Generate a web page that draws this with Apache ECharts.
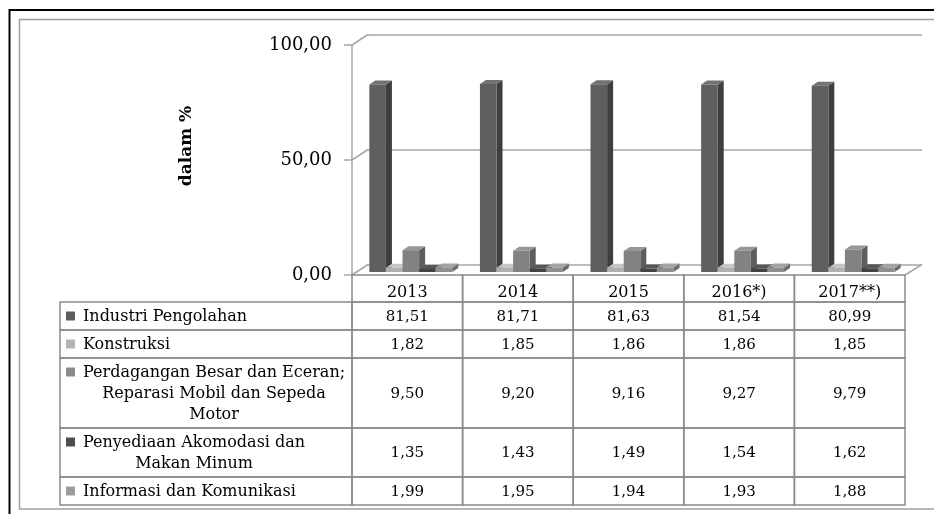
<!DOCTYPE html>
<html><head><meta charset="utf-8">
<script src="https://cdn.jsdelivr.net/npm/echarts@6/dist/echarts.min.js"></script>
<style>html,body{margin:0;padding:0;background:#fff}#c{width:934px;height:514px}</style>
</head><body><div id="c"></div>
<script>
// ---- data ----
const years = ['2013', '2014', '2015', '2016*)', '2017**)'];
const seriesNames = [
  'Industri Pengolahan',
  'Konstruksi',
  'Perdagangan Besar dan Eceran;\nReparasi Mobil dan Sepeda\nMotor',
  'Penyediaan Akomodasi dan\nMakan Minum',
  'Informasi dan Komunikasi'
];
const industri    = [81.51, 81.71, 81.63, 81.54, 80.99];
const konstruksi  = [1.82, 1.85, 1.86, 1.86, 1.85];
const perdagangan = [9.50, 9.20, 9.16, 9.27, 9.79];
const penyediaan  = [1.35, 1.43, 1.49, 1.54, 1.62];
const informasi   = [1.99, 1.95, 1.94, 1.93, 1.88];
const yTicks = [0, 50, 100];
const axisTitle = 'dalam %';

// ---- styles / layout ----
const allValues = [industri, konstruksi, perdagangan, penyediaan, informasi];
const barColors = [
  {front:'#5f5f5f', side:'#3e3e3e', top:'#727272', key:'#5c5c5c'},
  {front:'#b0b0b0', side:'#8e8e8e', top:'#c6c6c6', key:'#b5b5b5'},
  {front:'#828282', side:'#5e5e5e', top:'#969696', key:'#8c8c8c'},
  {front:'#424242', side:'#2a2a2a', top:'#575757', key:'#4c4c4c'},
  {front:'#8e8e8e', side:'#6c6c6c', top:'#a3a3a3', key:'#9c9c9c'}
];
const FONT = 'DejaVu Serif';
const LABEL_FS = 16;
const YEAR_FS = 16;
const VALUE_FS = 15;
const LINE_H = 21;
const HEADER_H = 27;
const LABEL_W = 292;
const WALL_DX = 16, WALL_DY = -10.5;
const BAR_DX = 6, BAR_DY = -4, BAR_LIFT = -3, BAR_SHIFT = 3.5, BAR_FRAC = 0.15;
const GRID_LINE = '#a6a6a6';
const TABLE_LINE = '#8a8a8a';
const FRONT = {left: 352, right: 29, top: 45, bottom: 239};

const fmt = v => v.toFixed(2).replace('.', ',');

const rowLines = seriesNames.map(n => n.split('\n').length);
const rowH = rowLines.map(l => 7 + LINE_H * l);
const rowTop = [];
let acc = HEADER_H;
rowH.forEach(h => { rowTop.push(acc); acc += h; });
const tableTotal = acc;

const mctx = document.createElement('canvas').getContext('2d');
mctx.font = LABEL_FS + 'px "' + FONT + '"';
const labelW = seriesNames.map(n => Math.max.apply(null, n.split('\n').map(s => mctx.measureText(s).width)));

// ---- render functions ----
function renderWalls(params, api) {
  const cs = params.coordSys;
  const v = api.value(1);
  const y = api.coord([0, v])[1];
  const children = [{
    type: 'line',
    shape: {x1: cs.x, y1: y, x2: cs.x + WALL_DX, y2: y + WALL_DY},
    style: {stroke: GRID_LINE, lineWidth: 1.5}
  }];
  if (v === 0) {
    children.push({
      type: 'line',
      shape: {x1: cs.x + cs.width, y1: y, x2: cs.x + cs.width + WALL_DX + 1, y2: y + WALL_DY},
      style: {stroke: GRID_LINE, lineWidth: 1.5}
    });
  }
  return {type: 'group', children};
}

function makeBarRender(sIdx) {
  const col = barColors[sIdx];
  return function (params, api) {
    const c = api.value(0), v = api.value(1);
    const bw = api.size([1, 0])[0];
    const w = bw * BAR_FRAC;
    const cx = api.coord([c, 0])[0];
    const x = cx - 2.5 * w + BAR_SHIFT + sIdx * w;
    const yb = api.coord([c, 0])[1] + BAR_LIFT;
    const yt = api.coord([c, v])[1] + BAR_LIFT;
    return {type: 'group', children: [
      {type: 'polygon', shape: {points: [[x + w, yb], [x + w + BAR_DX, yb + BAR_DY], [x + w + BAR_DX, yt + BAR_DY], [x + w, yt]]},
        style: {fill: col.side}},
      {type: 'polygon', shape: {points: [[x, yt], [x + BAR_DX, yt + BAR_DY], [x + w + BAR_DX, yt + BAR_DY], [x + w, yt]]},
        style: {fill: col.top}},
      {type: 'rect', shape: {x: x, y: yt, width: w, height: yb - yt}, style: {fill: col.front}}
    ]};
  };
}

function renderTable(params, api) {
  const cs = params.coordSys;
  const c = api.value(2), r = api.value(3);
  const top = r < 0 ? 0 : rowTop[r];
  const bot = r < 0 ? HEADER_H : rowTop[r] + rowH[r];
  const y0 = api.coord([0, top])[1], y1 = api.coord([0, bot])[1];
  let x0, x1;
  if (c < 0) { x0 = cs.x - LABEL_W; x1 = cs.x; }
  else {
    const bw = api.size([1, 0])[0];
    const cx = api.coord([c, 0])[0];
    x0 = cx - bw / 2; x1 = cx + bw / 2;
  }
  const children = [{
    type: 'rect', shape: {x: x0, y: y0, width: x1 - x0, height: y1 - y0},
    style: {fill: 'none', stroke: TABLE_LINE, lineWidth: 1.5}
  }];
  const cy = (y0 + y1) / 2;
  if (c < 0) {
    const lines = rowLines[r];
    const firstC = cy - (lines - 1) * LINE_H / 2;
    children.push({type: 'rect', shape: {x: x0 + 6, y: firstC - 4.5, width: 9, height: 9}, style: {fill: barColors[r].key}});
    children.push({type: 'text', style: {
      text: seriesNames[r], x: x0 + 23 + labelW[r] / 2, y: cy + 1,
      align: 'center', verticalAlign: 'middle', lineHeight: LINE_H,
      fontFamily: FONT, fontSize: LABEL_FS, fill: '#000'
    }});
  } else {
    const txt = r < 0 ? years[c] : fmt(allValues[r][c]);
    children.push({type: 'text', style: {
      text: txt, x: (x0 + x1) / 2, y: r < 0 ? cy + 4 : cy + 1,
      align: 'center', verticalAlign: 'middle',
      fontFamily: FONT, fontSize: r < 0 ? YEAR_FS : VALUE_FS, fill: '#000'
    }});
  }
  return {type: 'group', children};
}

const tableData = [];
years.forEach((y, c) => tableData.push([c, 0, c, -1]));
seriesNames.forEach((n, r) => {
  tableData.push([0, rowTop[r], -1, r]);
  years.forEach((y, c) => tableData.push([c, rowTop[r], c, r]));
});

const chart = echarts.init(document.getElementById('c'), null, {renderer: 'canvas'});
const option = {
  animation: false,
  backgroundColor: '#fff',
  textStyle: {fontFamily: FONT},
  graphic: [
    {type: 'rect', z: -10, shape: {x: 9.5, y: 10, width: 1000, height: 1000}, style: {fill: 'none', stroke: '#000', lineWidth: 2}},
    {type: 'rect', z: -10, shape: {x: 19.5, y: 19.5, width: 1000, height: 489.5}, style: {fill: 'none', stroke: '#a0a0a0', lineWidth: 1.5}}
  ],
  grid: [
    {left: FRONT.left, right: FRONT.right, top: FRONT.top, bottom: FRONT.bottom, containLabel: false, outerBoundsMode: 'none'},
    {left: FRONT.left + WALL_DX, right: FRONT.right - WALL_DX - 1, top: FRONT.top + WALL_DY, bottom: FRONT.bottom - WALL_DY, containLabel: false, outerBoundsMode: 'none'},
    {left: FRONT.left, right: FRONT.right, top: 514 - FRONT.bottom, bottom: 514 - (514 - FRONT.bottom) - tableTotal, containLabel: false, outerBoundsMode: 'none'}
  ],
  xAxis: [
    {type: 'category', gridIndex: 0, data: years, show: false},
    {type: 'category', gridIndex: 1, data: years, show: false},
    {type: 'category', gridIndex: 2, data: years, show: false}
  ],
  yAxis: [
    {type: 'value', gridIndex: 0, min: 0, max: 100, interval: 50,
      name: axisTitle, nameLocation: 'middle', nameRotate: 90, nameGap: 157,
      nameTextStyle: {fontFamily: FONT, fontWeight: 'bold', fontSize: 17, color: '#000', padding: [0, 0, 0, 28]},
      axisLine: {show: true, lineStyle: {color: GRID_LINE, width: 1.5}},
      axisTick: {show: true, length: 8, lineStyle: {color: GRID_LINE, width: 1.5}},
      axisLabel: {formatter: v => fmt(v), fontFamily: FONT, fontSize: 18, color: '#000', margin: 20},
      splitLine: {show: false}},
    {type: 'value', gridIndex: 1, min: 0, max: 100, interval: 50,
      axisLine: {show: false}, axisTick: {show: false}, axisLabel: {show: false},
      splitLine: {show: true, lineStyle: {color: GRID_LINE, width: 1.5}}},
    {type: 'value', gridIndex: 2, min: 0, max: tableTotal, inverse: true, show: false, splitLine: {show: false}}
  ],
  series: [
    {type: 'custom', xAxisIndex: 0, yAxisIndex: 0, clip: false, silent: true, z: 1,
      data: yTicks.map(v => [0, v]), renderItem: renderWalls},
    ...allValues.map((vals, s) => ({
      type: 'custom', name: seriesNames[s], xAxisIndex: 0, yAxisIndex: 0, clip: false, z: 2 + s,
      data: vals.map((v, i) => [i, v]), renderItem: makeBarRender(s)
    })),
    {type: 'custom', xAxisIndex: 2, yAxisIndex: 2, clip: false, silent: true, z: 10,
      encode: {x: 0, y: 1}, dimensions: ['x', 'y', 'col', 'row'],
      data: tableData, renderItem: renderTable}
  ]
};
chart.setOption(option);
</script>
</body></html>
